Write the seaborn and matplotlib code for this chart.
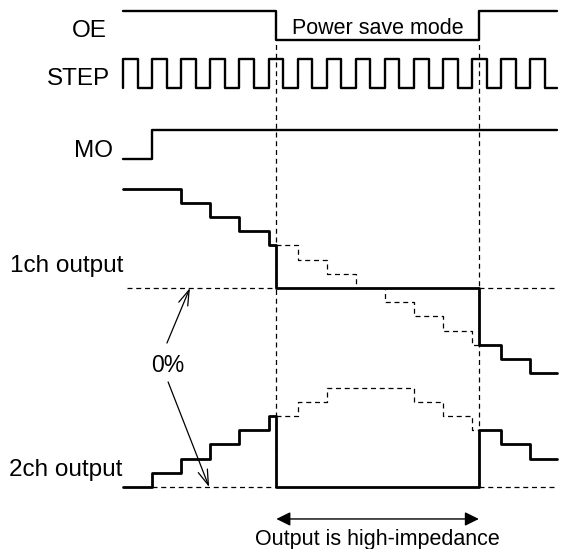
"""
Timing diagram: power save mode (OE low) with 2-phase microstep outputs
"""
import matplotlib
matplotlib.use('Agg')
import matplotlib.pyplot as plt
import seaborn as sns
import pandas as pd

# time axis in STEP periods, rising edges of STEP at every integer
step_rise = [0, 1, 2, 3, 4, 5, 6, 7, 8, 9, 10, 11, 12, 13, 14]
step_duty = 0.5
t_end = 14.93
t_mo = 1.0
t_save_on = 5.27
t_save_off = 12.23

# digital rows (low, high) in diagram units
oe_levels = (31.45, 33.5)
step_levels = (28.1, 30.1)
mo_levels = (23.05, 25.1)

# analog outputs: level (in microsteps) set at each STEP edge
ch1_time = [0, 2, 3, 4, 5, 6, 7, 8, 9, 10, 11, 12, 13, 14]
ch1_level = [7, 6, 5, 4, 3, 2, 1, 0, -1, -2, -3, -4, -5, -6]
ch2_time = [0, 1, 2, 3, 4, 5, 6, 7, 8, 9, 10, 11, 12, 13, 14]
ch2_level = [0, 1, 2, 3, 4, 5, 6, 7, 7, 7, 6, 5, 4, 3, 2]
ch1_zero = 14.0
ch2_zero = 0.0

LW_SIG = 1.7
LW_OUT = 2.0
LW_DASH = 0.9
DASH = (4, 3)


def level_at(times, levels, t):
    val = levels[0]
    for tt, lv in zip(times, levels):
        if tt <= t:
            val = lv
    return val


def draw_steps(ax, xs, ys, lw, dashed=False):
    df = pd.DataFrame({'t': xs, 'v': ys})
    line = sns.lineplot(data=df, x='t', y='v', ax=ax, color='black', lw=lw,
                        estimator=None, sort=False, drawstyle='steps-post',
                        legend=False)
    if dashed:
        line.lines[-1].set_dashes(DASH)
    return line


def output_traces(times, levels, zero):
    # solid: real output, forced to 0 while high-impedance
    sx, sy = [], []
    for tt, lv in zip(times, levels):
        if tt < t_save_on:
            sx.append(tt)
            sy.append(zero + lv)
    sx.append(t_save_on)
    sy.append(zero)
    sx.append(t_save_off)
    sy.append(zero + level_at(times, levels, t_save_off))
    for tt, lv in zip(times, levels):
        if tt > t_save_off:
            sx.append(tt)
            sy.append(zero + lv)
    sx.append(t_end)
    sy.append(sy[-1])
    # dashed: internal position during power save
    dx = [t_save_on]
    dy = [zero + level_at(times, levels, t_save_on)]
    for tt, lv in zip(times, levels):
        if t_save_on < tt < t_save_off:
            dx.append(tt)
            dy.append(zero + lv)
    dx.append(t_save_off)
    dy.append(zero + level_at(times, levels, t_save_off))
    return (sx, sy), (dx, dy)


sns.set_style('white')
plt.rcParams['font.family'] = ['Liberation Sans', 'DejaVu Sans']
plt.rcParams['text.color'] = 'black'

fig = plt.figure(figsize=(5.62, 5.49), dpi=100)
ax = fig.add_axes([0, 0, 1, 1])

# reference dashed lines (0% levels and mode boundaries)
for x0, x1, y in [(0.15, t_save_on, ch1_zero), (t_save_off, t_end, ch1_zero),
                  (t_mo, t_save_on, ch2_zero), (t_save_off, t_end, ch2_zero)]:
    draw_steps(ax, [x0, x1], [y, y], LW_DASH, dashed=True)
for tx in [t_save_on, t_save_off]:
    draw_steps(ax, [tx, tx], [ch2_zero, oe_levels[0] - 0.05], LW_DASH, dashed=True)

# analog outputs
for times, levels, zero in [(ch1_time, ch1_level, ch1_zero),
                            (ch2_time, ch2_level, ch2_zero)]:
    (sx, sy), (dx, dy) = output_traces(times, levels, zero)
    draw_steps(ax, dx, dy, LW_DASH, dashed=True)
    draw_steps(ax, sx, sy, LW_OUT)

# OE
oe_x = [0, t_save_on, t_save_off, t_end]
oe_y = [oe_levels[1], oe_levels[0], oe_levels[1], oe_levels[1]]
draw_steps(ax, oe_x, oe_y, LW_SIG)

# STEP clock
st_x, st_y = [0], [step_levels[0]]
for r in step_rise:
    st_x += [r, r + step_duty]
    st_y += [step_levels[1], step_levels[0]]
st_x.append(t_end)
st_y.append(step_levels[0])
draw_steps(ax, st_x, st_y, LW_SIG)

# MO
draw_steps(ax, [0, t_mo, t_end], [mo_levels[0], mo_levels[1], mo_levels[1]], LW_SIG)

# labels
ax.text(-0.55, 31.67, 'OE', fontsize=17.5, ha='right', va='baseline')
ax.text(-0.45, 28.29, 'STEP', fontsize=17.5, ha='right', va='baseline')
ax.text(-0.34, 23.22, 'MO', fontsize=17.5, ha='right', va='baseline')
ax.text(-3.88, 15.13, '1ch output', fontsize=17.5, ha='left', va='baseline')
ax.text(-3.92, 0.77, '2ch output', fontsize=17.5, ha='left', va='baseline')
ax.text((t_save_on + t_save_off) / 2, 31.91, 'Power save mode', fontsize=15.5,
        ha='center', va='baseline')
ax.text(1.55, 8.09, '0%', fontsize=16.5, ha='center', va='baseline')
ax.text((t_save_on + t_save_off) / 2, -4.08, 'Output is high-impedance',
        fontsize=15.5, ha='center', va='baseline')

# 0% pointers
arrow_kw = dict(arrowstyle='->, head_length=1.1, head_width=0.35', lw=0.9,
                color='black', mutation_scale=10, shrinkA=0, shrinkB=0)
ax.annotate('', xy=(2.30, ch1_zero), xytext=(1.51, 10.13), arrowprops=arrow_kw)
ax.annotate('', xy=(2.96, ch2_zero), xytext=(1.55, 7.39), arrowprops=arrow_kw)

# high-impedance span
ax.annotate('', xy=(t_save_off, -2.25), xytext=(t_save_on, -2.25),
            arrowprops=dict(arrowstyle='<|-|>, head_length=0.85, head_width=0.42',
                            lw=1.0, color='black', mutation_scale=10,
                            shrinkA=0, shrinkB=0))

ax.set_xlim(-4.227, 15.086)
ax.set_ylim(-4.363, 34.27)
ax.axis('off')

plt.savefig('out.png', dpi=100)
plt.close()
